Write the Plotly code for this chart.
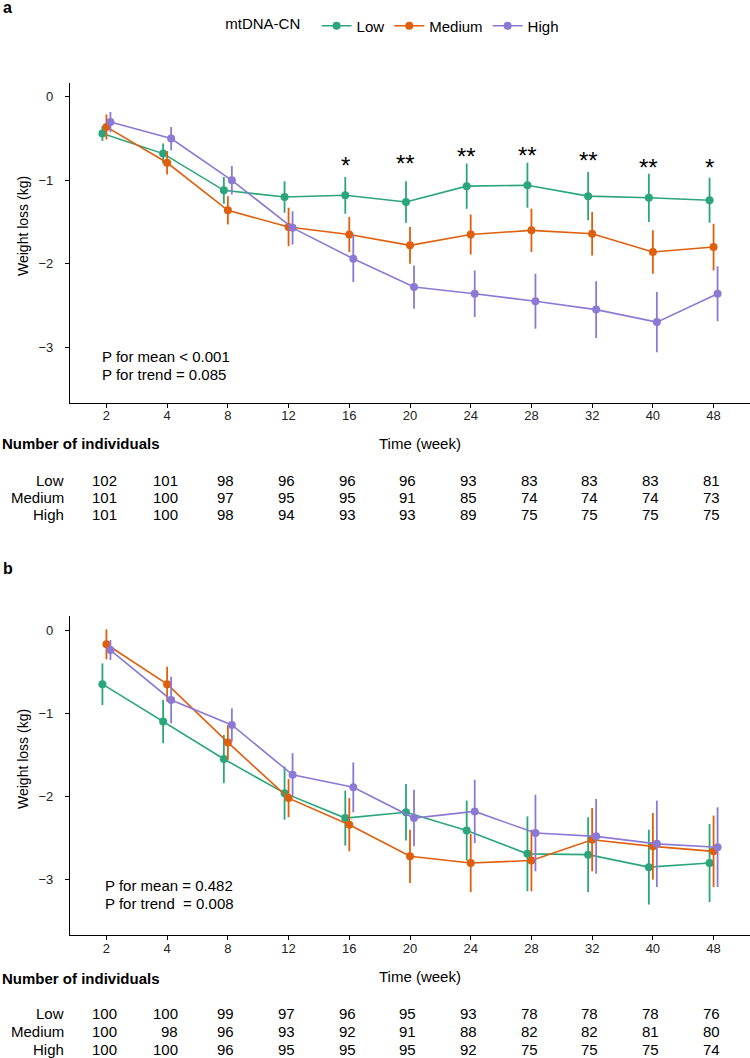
import plotly.graph_objects as go

# x categories (weeks) and groups
weeks = ["2", "4", "8", "12", "16", "20", "24", "28", "32", "40", "48"]
groups = ["Low", "Medium", "High"]
colors = {"Low": "#2AA57C", "Medium": "#DF5F0C", "High": "#8B79D5"}

# panel a: mean weight loss and error
a_low = [-0.44, -0.68, -1.12, -1.20, -1.18, -1.26, -1.07, -1.06, -1.19, -1.21, -1.24]
a_low_err = [0.09, 0.12, 0.16, 0.19, 0.22, 0.25, 0.27, 0.27, 0.29, 0.29, 0.27]
a_med = [-0.36, -0.79, -1.36, -1.56, -1.65, -1.78, -1.65, -1.60, -1.64, -1.86, -1.80]
a_med_err = [0.15, 0.14, 0.17, 0.23, 0.21, 0.22, 0.24, 0.26, 0.26, 0.26, 0.28]
a_high = [-0.30, -0.50, -1.00, -1.57, -1.94, -2.28, -2.36, -2.45, -2.55, -2.70, -2.36]
a_high_err = [0.12, 0.14, 0.17, 0.20, 0.28, 0.26, 0.28, 0.33, 0.34, 0.36, 0.33]

# significance marks in panel a (week index, label, height)
sig_idx = [4, 5, 6, 7, 8, 9, 10]
sig_text = ["*", "**", "**", "**", "**", "**", "*"]
sig_y = [-0.76, -0.74, -0.66, -0.64, -0.70, -0.79, -0.79]

# panel b
b_low = [-0.65, -1.10, -1.55, -1.96, -2.26, -2.19, -2.41, -2.69, -2.70, -2.85, -2.80]
b_low_err = [0.25, 0.26, 0.29, 0.32, 0.33, 0.34, 0.36, 0.45, 0.45, 0.45, 0.47]
b_med = [-0.17, -0.65, -1.35, -2.02, -2.34, -2.72, -2.80, -2.77, -2.52, -2.60, -2.66]
b_med_err = [0.18, 0.21, 0.21, 0.23, 0.32, 0.32, 0.35, 0.37, 0.38, 0.40, 0.43]
b_high = [-0.24, -0.84, -1.14, -1.74, -1.89, -2.26, -2.18, -2.44, -2.48, -2.57, -2.61]
b_high_err = [0.12, 0.28, 0.20, 0.26, 0.30, 0.34, 0.38, 0.46, 0.45, 0.52, 0.48]

# number of individuals tables
a_n = {
    "Low": [102, 101, 98, 96, 96, 96, 93, 83, 83, 83, 81],
    "Medium": [101, 100, 97, 95, 95, 91, 85, 74, 74, 74, 73],
    "High": [101, 100, 98, 94, 93, 93, 89, 75, 75, 75, 75],
}
b_n = {
    "Low": [100, 100, 99, 97, 96, 95, 93, 78, 78, 78, 76],
    "Medium": [100, 98, 96, 93, 92, 91, 88, 82, 82, 81, 80],
    "High": [100, 100, 96, 95, 95, 95, 92, 75, 75, 75, 74],
}

a_p = ["P for mean < 0.001", "P for trend = 0.085"]
b_p = ["P for mean = 0.482", "P for trend  = 0.008"]

y_ticks = [0, -1, -2, -3]
y_labels = ["0", "\u22121", "\u22122", "\u22123"]

W, H = 750, 1058
FONT = "Liberation Sans, Arial, sans-serif"
TXT = 15
dodge = {"Low": -0.066, "Medium": 0.0, "High": 0.066}


def px(x):
    return x / W


def py(y):
    return 1 - y / H


fig = go.Figure()

panels = [
    ("x", "y", {"Low": (a_low, a_low_err), "Medium": (a_med, a_med_err), "High": (a_high, a_high_err)}, True),
    ("x2", "y2", {"Low": (b_low, b_low_err), "Medium": (b_med, b_med_err), "High": (b_high, b_high_err)}, False),
]
for xr, yr, data, show in panels:
    for g in groups:
        vals, err = data[g]
        fig.add_trace(go.Scatter(
            x=[i + dodge[g] for i in range(len(weeks))], y=vals,
            error_y=dict(type="data", array=err, color=colors[g], thickness=1.8, width=0),
            mode="lines+markers", name=g, legendgroup=g, showlegend=show,
            line=dict(color=colors[g], width=1.6),
            marker=dict(color=colors[g], size=8),
            xaxis=xr, yaxis=yr,
        ))

axis_common = dict(showgrid=False, zeroline=False, showline=True, linecolor="black", linewidth=1,
                   ticks="outside", ticklen=4, tickcolor="black", tickwidth=1,
                   tickfont=dict(size=13, color="#222222", family=FONT))
# trailing spaces push the y labels away from the axis like the ggplot original
yt = dict(tickvals=y_ticks, ticktext=[t + "\u2002\u2009" for t in y_labels], range=[-3.666, 0.17])
xt = dict(tickvals=list(range(len(weeks))), ticktext=weeks, range=[-0.6, 10.6], ticklabelstandoff=-3)

fig.update_layout(
    width=W, height=H, margin=dict(l=0, r=0, t=0, b=0),
    paper_bgcolor="white", plot_bgcolor="white",
    font=dict(family=FONT, color="black"),
    xaxis=dict(domain=[px(70), 1], anchor="y", **xt, **axis_common),
    yaxis=dict(domain=[py(402.7), py(82.7)], anchor="x", **yt, **axis_common),
    xaxis2=dict(domain=[px(70), 1], anchor="y2", **xt, **axis_common),
    yaxis2=dict(domain=[py(935), py(616)], anchor="x2", **yt, **axis_common),
    legend=dict(orientation="h", x=0.525, xanchor="center", y=py(26), yanchor="middle",
                title=dict(text="mtDNA-CN  ", side="left", font=dict(size=TXT)),
                font=dict(size=TXT), itemwidth=30, bgcolor="rgba(0,0,0,0)"),
)

ann = []


def note(text, x, y, xanchor="center", size=TXT, xref="paper", yref="paper", **kw):
    ann.append(dict(text=text, x=x, y=y, xref=xref, yref=yref, xanchor=xanchor, yanchor="middle",
                    showarrow=False, font=dict(size=size), **kw))


# panel letters
note("<b>a</b>", px(1), py(8), xanchor="left", size=16)
note("<b>b</b>", px(1), py(568), xanchor="left", size=16)

# significance stars
for i, t, yv in zip(sig_idx, sig_text, sig_y):
    note(t, i + dodge["Low"], yv, size=24, xref="x", yref="y", yshift=-5)

# layout positions (px) for the two panels
pos = [
    dict(xr="x", ytitle=226, p=(356.7, 374), xtitle=443, head=443, rows=(480.7, 497.3, 514.3), p_x=100,
         pl=a_p, n=a_n),
    dict(xr="x2", ytitle=759, p=(885, 903.3), xtitle=976, head=978, rows=(1013, 1031.7, 1049), p_x=103,
         pl=b_p, n=b_n),
]
for P in pos:
    note("Weight loss (kg)", px(23), py(P["ytitle"]), size=14, textangle=-90)
    note("Time (week)", px(420), py(P["xtitle"]))
    note("<b>Number of individuals</b>", 0, py(P["head"]), xanchor="left")
    for t, yy in zip(P["pl"], P["p"]):
        note(t.replace("  ", "&nbsp; "), px(P["p_x"]), py(yy), xanchor="left")
    for g, yy in zip(groups, P["rows"]):
        note(g, px(65.5), py(yy), xanchor="right")
        for i in range(len(weeks)):
            col = [P["n"][k][i] for k in groups]
            maxd = max(len(str(v)) for v in col)
            note(str(P["n"][g][i]), i, py(yy), xanchor="right", xref=P["xr"],
                 xshift=maxd * 0.556 * TXT / 2)

fig.update_layout(annotations=ann)
# drop the default page margin so the figure sits at the window origin
fig.write_html("out.html", config={"displayModeBar": False},
               post_script="document.body.style.margin='0px';")
